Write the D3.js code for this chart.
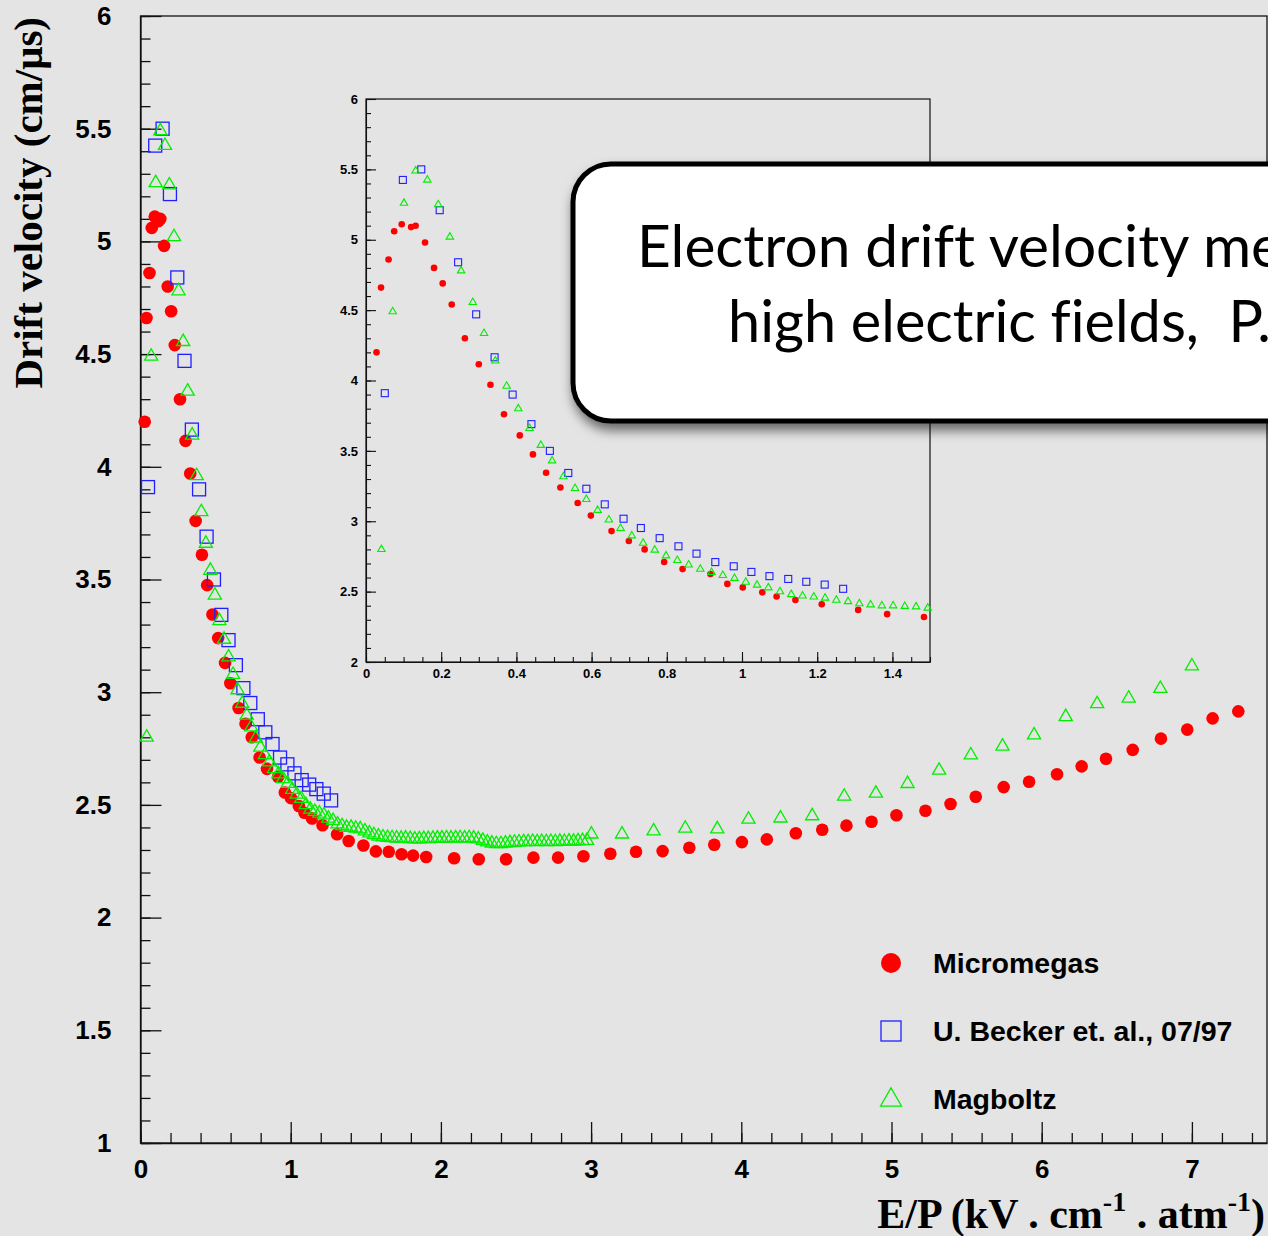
<!DOCTYPE html>
<html>
<head>
<meta charset="utf-8">
<script src="https://cdn.jsdelivr.net/npm/d3@7"></script>
<style>
  html, body { margin: 0; padding: 0; background: #e4e4e4; overflow: hidden; }
  svg { display: block; }
  .tick text { font-family: "Liberation Sans", Arial, sans-serif; font-weight: bold; fill: #000; }
  .tick line, .domain { stroke: #111; }
</style>
</head>
<body>
<svg id="chart" width="1268" height="1236"></svg>
<script>
// Micromegas measurement (E/P in kV/cm/atm, drift velocity in cm/us)
const micromegasE = [0.028, 0.040, 0.060, 0.075, 0.095, 0.120, 0.132, 0.157, 0.181, 0.204,
  0.228, 0.263, 0.300, 0.331, 0.367, 0.409, 0.444, 0.479, 0.517, 0.563,
  0.598, 0.653, 0.699, 0.741, 0.793, 0.842, 0.916, 0.961, 1.002, 1.054,
  1.092, 1.142, 1.212, 1.309, 1.386, 1.484, 1.567, 1.653, 1.738, 1.815,
  1.902, 2.088, 2.252, 2.434, 2.616, 2.780, 2.949, 3.128, 3.299, 3.476,
  3.654, 3.820, 4.004, 4.170, 4.363, 4.539, 4.700, 4.867, 5.033, 5.226,
  5.393, 5.561, 5.747, 5.916, 6.102, 6.266, 6.428, 6.606, 6.794, 6.969,
  7.138, 7.309];
const micromegasV = [4.20, 4.66, 4.86, 5.06, 5.11, 5.09, 5.10, 4.98, 4.80, 4.69,
  4.54, 4.30, 4.115, 3.97, 3.76, 3.61, 3.475, 3.345, 3.24, 3.13,
  3.04, 2.93, 2.86, 2.80, 2.71, 2.66, 2.625, 2.555, 2.53, 2.495,
  2.465, 2.44, 2.41, 2.37, 2.34, 2.32, 2.294, 2.292, 2.281, 2.275,
  2.269, 2.263, 2.259, 2.259, 2.266, 2.266, 2.272, 2.283, 2.292, 2.295,
  2.310, 2.323, 2.335, 2.347, 2.374, 2.390, 2.408, 2.425, 2.454, 2.474,
  2.504, 2.536, 2.579, 2.603, 2.636, 2.671, 2.705, 2.744, 2.794, 2.834,
  2.884, 2.915];

// U. Becker et al., 07/97
const beckerE = [0.050, 0.098, 0.147, 0.196, 0.245, 0.293, 0.342, 0.390, 0.440, 0.489,
  0.538, 0.586, 0.635, 0.685, 0.731, 0.781, 0.831, 0.879, 0.929, 0.978,
  1.025, 1.073, 1.123, 1.171, 1.220, 1.269];
const beckerV = [3.91, 5.425, 5.50, 5.21, 4.84, 4.47, 4.165, 3.90, 3.69, 3.50,
  3.343, 3.231, 3.12, 3.018, 2.952, 2.88, 2.822, 2.77, 2.71, 2.68,
  2.64, 2.61, 2.59, 2.57, 2.55, 2.52];

// Magboltz simulation
const magboltzE = [0.041, 0.071, 0.101, 0.132, 0.163, 0.192, 0.223, 0.253, 0.284, 0.314,
  0.344, 0.374, 0.405, 0.435, 0.465, 0.495, 0.525, 0.556, 0.586, 0.616,
  0.646, 0.677, 0.707, 0.737, 0.768, 0.798, 0.828, 0.858, 0.889, 0.919,
  0.949, 0.980, 1.010, 1.040, 1.070, 1.101, 1.131, 1.161, 1.191, 1.221,
  1.251, 1.282, 1.312, 1.342, 1.372, 1.402, 1.433, 1.463, 1.494, 1.524,
  1.554, 1.584, 1.614, 1.645, 1.675, 1.705, 1.735, 1.765, 1.796, 1.826,
  1.856, 1.886, 1.916, 1.947, 1.977, 2.007, 2.037, 2.067, 2.098, 2.128,
  2.158, 2.188, 2.218, 2.249, 2.279, 2.309, 2.339, 2.369, 2.400, 2.430,
  2.460, 2.490, 2.520, 2.551, 2.581, 2.611, 2.641, 2.671, 2.702, 2.732,
  2.762, 2.792, 2.822, 2.853, 2.883, 2.913, 2.943, 2.973, 3.002, 3.206,
  3.416, 3.627, 3.840, 4.048, 4.261, 4.472, 4.685, 4.896, 5.107, 5.317,
  5.528, 5.739, 5.949, 6.160, 6.369, 6.579, 6.790, 7.000];
const magboltzV = [2.80, 4.49, 5.26, 5.49, 5.425, 5.25, 5.02, 4.78, 4.555, 4.335,
  4.14, 3.96, 3.80, 3.66, 3.54, 3.43, 3.317, 3.234, 3.156, 3.078,
  3.01, 2.95, 2.897, 2.845, 2.796, 2.755, 2.722, 2.69, 2.66, 2.637,
  2.616, 2.595, 2.568, 2.547, 2.528, 2.50, 2.48, 2.47, 2.463, 2.455,
  2.44, 2.43, 2.415, 2.407, 2.40, 2.40, 2.396, 2.393, 2.384, 2.375,
  2.367, 2.361, 2.357, 2.355, 2.354, 2.352, 2.351, 2.352, 2.350, 2.348,
  2.349, 2.350, 2.350, 2.351, 2.352, 2.352, 2.353, 2.352, 2.353, 2.354,
  2.352, 2.354, 2.352, 2.348, 2.342, 2.335, 2.330, 2.327, 2.327, 2.330,
  2.332, 2.334, 2.335, 2.336, 2.336, 2.337, 2.336, 2.337, 2.336, 2.337,
  2.336, 2.338, 2.337, 2.339, 2.338, 2.340, 2.341, 2.342, 2.370, 2.370,
  2.384, 2.396, 2.393, 2.436, 2.441, 2.451, 2.538, 2.551, 2.594, 2.653,
  2.721, 2.760, 2.810, 2.891, 2.948, 2.973, 3.016, 3.116];

const mainXTicks = [0, 1, 2, 3, 4, 5, 6, 7];
const mainYTicks = [1, 1.5, 2, 2.5, 3, 3.5, 4, 4.5, 5, 5.5, 6];
const insetXTicks = [0, 0.2, 0.4, 0.6, 0.8, 1, 1.2, 1.4];
const insetYTicks = [2, 2.5, 3, 3.5, 4, 4.5, 5, 5.5, 6];
const legendLabels = ['Micromegas', 'U. Becker et. al., 07/97', 'Magboltz'];
const calloutLines = ['Electron drift velocity measurements at', 'high electric fields,  P. Colas et al.'];

const red = '#ff0000', blue = '#1f1fff', green = '#00ee00';
const toPoints = (xs, ys) => xs.map((e, i) => ({e: e, v: ys[i]}));
const micromegas = toPoints(micromegasE, micromegasV);
const becker = toPoints(beckerE, beckerV);
const magboltz = toPoints(magboltzE, magboltzV);
const plain = d => String(d);

const svg = d3.select('#chart');
svg.append('rect').attr('width', 1268).attr('height', 1236).attr('fill', '#e4e4e4');

// draws one set of markers for a given pair of scales
function drawSeries(g, x, y, s) {
  g.selectAll(null).data(micromegas.filter(d => d.e <= x.domain()[1]))
    .join('circle')
    .attr('cx', d => x(d.e)).attr('cy', d => y(d.v))
    .attr('r', s.r).attr('fill', red);
  g.selectAll(null).data(becker)
    .join('rect')
    .attr('x', d => x(d.e) - s.sq / 2).attr('y', d => y(d.v) - s.sq / 2)
    .attr('width', s.sq).attr('height', s.sq)
    .attr('fill', 'none').attr('stroke', blue).attr('stroke-width', s.sw);
  g.selectAll(null).data(magboltz.filter(d => d.e <= x.domain()[1]))
    .join('path')
    .attr('transform', d => `translate(${x(d.e)},${y(d.v)})`)
    .attr('d', d3.symbol(d3.symbolTriangle, s.tri))
    .attr('fill', 'none').attr('stroke', green).attr('stroke-width', s.sw);
}

// ---- main frame
const x = d3.scaleLinear().domain([0, 7.5]).range([140.5, 1267]);
const y = d3.scaleLinear().domain([1, 6]).range([1143, 16]);

svg.append('rect')
  .attr('x', 140.5).attr('y', 16).attr('width', 1267 - 140.5).attr('height', 1143 - 16)
  .attr('fill', 'none').attr('stroke', '#111').attr('stroke-width', 1.3);

const yMinor = svg.append('g').attr('transform', 'translate(140.5,0)')
  .call(d3.axisLeft(y).ticks(50).tickSize(-10).tickFormat(''));
yMinor.select('.domain').remove();
const yAxis = svg.append('g').attr('transform', 'translate(140.5,0)')
  .call(d3.axisLeft(y).tickValues(mainYTicks).tickFormat(plain)
    .tickSize(-21).tickPadding(29).tickSizeOuter(0));
yAxis.selectAll('text').style('font-size', '26px');

const xMinor = svg.append('g').attr('transform', 'translate(0,1143)')
  .call(d3.axisBottom(x).ticks(40).tickSize(-10).tickFormat(''));
xMinor.select('.domain').remove();
const xAxis = svg.append('g').attr('transform', 'translate(0,1143)')
  .call(d3.axisBottom(x).tickValues(mainXTicks).tickFormat(plain)
    .tickSize(-21).tickPadding(17).tickSizeOuter(0));
xAxis.selectAll('text').style('font-size', '26px');
svg.selectAll('.tick line, .domain').attr('stroke-width', 1.3);

// axis titles
svg.append('text')
  .attr('transform', 'translate(42,17) rotate(-90)')
  .attr('text-anchor', 'end')
  .style('font-family', '"Liberation Serif", "Times New Roman", serif')
  .style('font-weight', 'bold').style('font-size', '41px')
  .text('Drift velocity (cm/\u03bcs)');

const xTitle = svg.append('text')
  .attr('x', 1265).attr('y', 1228)
  .attr('text-anchor', 'end')
  .style('font-family', '"Liberation Serif", "Times New Roman", serif')
  .style('font-weight', 'bold').style('font-size', '42px');
xTitle.append('tspan').text('E/P (kV . cm');
xTitle.append('tspan').attr('dy', -17).style('font-size', '28px').text('-1');
xTitle.append('tspan').attr('dy', 17).text(' . atm');
xTitle.append('tspan').attr('dy', -17).style('font-size', '28px').text('-1');
xTitle.append('tspan').attr('dy', 17).text(')');

drawSeries(svg.append('g'), x, y, {r: 6.3, sq: 13, tri: 75, sw: 1.3});

// legend
const legend = svg.append('g');
const legendY = [963, 1031, 1099];
legend.append('circle').attr('cx', 891).attr('cy', legendY[0]).attr('r', 10).attr('fill', red);
legend.append('rect').attr('x', 881).attr('y', legendY[1] - 10).attr('width', 20).attr('height', 20)
  .attr('fill', 'none').attr('stroke', blue).attr('stroke-width', 1.3);
legend.append('path').attr('transform', `translate(891,${legendY[2] + 1})`)
  .attr('d', d3.symbol(d3.symbolTriangle, 190))
  .attr('fill', 'none').attr('stroke', green).attr('stroke-width', 1.3);
legend.selectAll('text').data(legendLabels).join('text')
  .attr('x', 933).attr('y', (d, i) => legendY[i]).attr('dy', '0.36em')
  .style('font-family', '"Liberation Sans", Arial, sans-serif')
  .style('font-weight', 'bold').style('font-size', '28.5px')
  .text(d => d);

// ---- inset zoom on the low field region
const ix = d3.scaleLinear().domain([0, 1.5]).range([366, 930]);
const iy = d3.scaleLinear().domain([2, 6]).range([662, 99]);
const inset = svg.append('g');
inset.append('rect')
  .attr('x', 366).attr('y', 99).attr('width', 930 - 366).attr('height', 662 - 99)
  .attr('fill', '#e4e4e4').attr('stroke', '#111').attr('stroke-width', 1.2);
const iyMinor = inset.append('g').attr('transform', 'translate(366,0)')
  .call(d3.axisLeft(iy).ticks(40).tickSize(-5).tickFormat(''));
iyMinor.select('.domain').remove();
const iyAxis = inset.append('g').attr('transform', 'translate(366,0)')
  .call(d3.axisLeft(iy).tickValues(insetYTicks).tickFormat(plain)
    .tickSize(-10).tickPadding(8).tickSizeOuter(0));
iyAxis.selectAll('text').style('font-size', '13px');
const ixMinor = inset.append('g').attr('transform', 'translate(0,662)')
  .call(d3.axisBottom(ix).ticks(30).tickSize(-5).tickFormat(''));
ixMinor.select('.domain').remove();
const ixAxis = inset.append('g').attr('transform', 'translate(0,662)')
  .call(d3.axisBottom(ix).tickValues(insetXTicks).tickFormat(plain)
    .tickSize(-10).tickPadding(7).tickSizeOuter(0));
ixAxis.selectAll('text').style('font-size', '13px');
inset.selectAll('.tick line, .domain').attr('stroke-width', 1.1);

drawSeries(inset.append('g'), ix, iy, {r: 3.3, sq: 7, tri: 24, sw: 1.1});

// ---- callout box
const defs = svg.append('defs');
defs.append('filter').attr('id', 'shadow')
  .attr('x', '-10%').attr('y', '-10%').attr('width', '130%').attr('height', '140%')
  .append('feDropShadow')
  .attr('dx', 2).attr('dy', 7).attr('stdDeviation', 6)
  .attr('flood-color', '#000').attr('flood-opacity', 0.55);

const callout = svg.append('g');
callout.append('rect')
  .attr('x', 573).attr('y', 164).attr('width', 800).attr('height', 257).attr('rx', 38)
  .attr('fill', '#fff').attr('stroke', '#000').attr('stroke-width', 5)
  .attr('filter', 'url(#shadow)');

const calloutX = [637, 728], calloutBase = [267, 342];
const calloutFit = [[23, 551], [21, 471]]; // chars, target width of the visible words
callout.selectAll('text').data(calloutLines).join('text')
  .attr('x', (d, i) => calloutX[i]).attr('y', (d, i) => calloutBase[i])
  .style('font-family', 'Lato, "Open Sans", sans-serif')
  .style('font-size', '100px')
  .style('white-space', 'pre')
  .style('font-variant-ligatures', 'none')
  .text(d => d)
  .each(function(d, i) {
    const w = this.getSubStringLength(0, calloutFit[i][0]);
    d3.select(this).style('font-size', (100 * calloutFit[i][1] / w) + 'px');
  });
</script>
</body>
</html>
